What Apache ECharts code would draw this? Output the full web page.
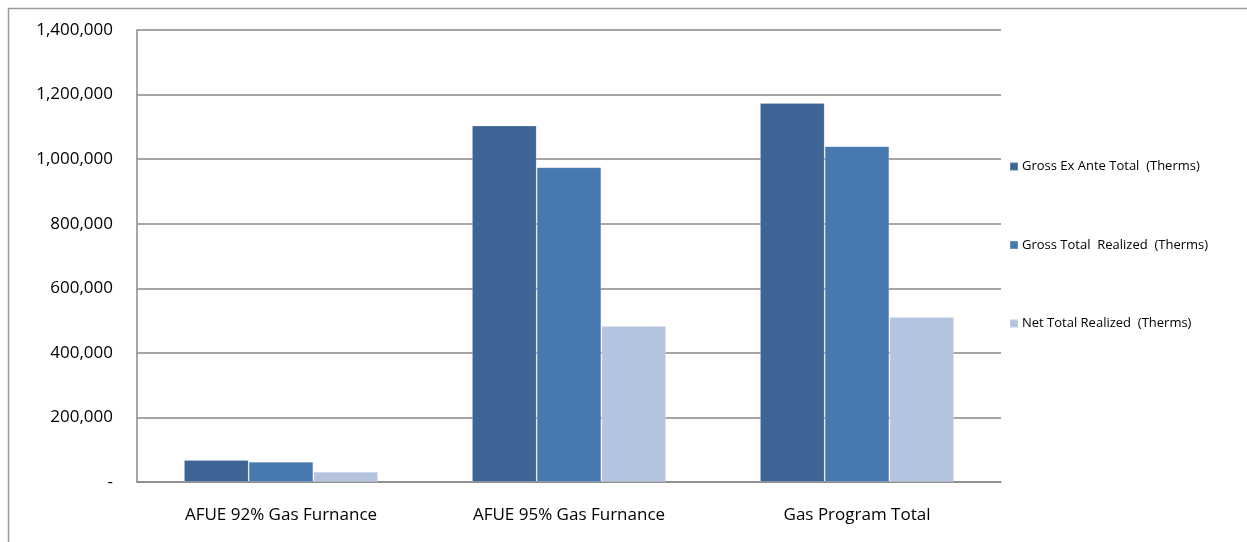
<!DOCTYPE html>
<html>
<head>
<meta charset="utf-8">
<script src="https://cdn.jsdelivr.net/npm/echarts@6/dist/echarts.min.js"></script>
<style>
  html, body { margin: 0; padding: 0; background: #fff; }
  #chart { width: 1247px; height: 542px; }
</style>
</head>
<body>
<div id="chart"></div>
<script>
// Furnace measures and program total
const categories = ['AFUE 92% Gas Furnance', 'AFUE 95% Gas Furnance', 'Gas Program Total'];
const seriesNames = ['Gross Ex Ante Total  (Therms)', 'Gross Total  Realized  (Therms)', 'Net Total Realized  (Therms)'];
const grossExAnte = [68000, 1104000, 1174000];
const grossRealized = [63000, 975000, 1040000];
const netRealized = [32000, 483000, 511000];
const seriesColors = ['#3D6494', '#4878B0', '#B4C4DE'];

const FONT = '"Open Sans", "Liberation Sans", sans-serif';

const fmt = v => v === 0 ? '-' : v.toLocaleString('en-US');

const chart = echarts.init(document.getElementById('chart'), null, { renderer: 'canvas' });

const values = [grossExAnte, grossRealized, netRealized];

chart.setOption({
  animation: false,
  backgroundColor: '#fff',
  textStyle: { fontFamily: FONT },
  graphic: [
    { type: 'line', shape: { x1: 8, y1: 8.5, x2: 1247, y2: 8.5 }, style: { stroke: '#9a9a9a', lineWidth: 1.5 } },
    { type: 'line', shape: { x1: 8.5, y1: 8, x2: 8.5, y2: 542 }, style: { stroke: '#9a9a9a', lineWidth: 1.5 } }
  ],
  grid: { left: 137, top: 30, right: 246, bottom: 60, containLabel: false },
  legend: {
    orient: 'vertical',
    left: 1004,
    top: 155,
    itemWidth: 8,
    itemHeight: 8,
    itemGap: 65.5,
    icon: 'rect',
    textStyle: { fontFamily: FONT, fontSize: 13, color: '#000', padding: [0, 0, 0, -1] },
    data: seriesNames
  },
  xAxis: {
    type: 'category',
    data: categories,
    axisLine: { lineStyle: { color: '#888', width: 1.5 } },
    axisTick: { show: false },
    axisLabel: { color: '#000', fontSize: 17, fontFamily: FONT, margin: 25 }
  },
  yAxis: {
    type: 'value',
    min: 0,
    max: 1400000,
    interval: 200000,
    axisLine: { show: true, lineStyle: { color: '#888', width: 1.5 } },
    axisTick: { show: false },
    splitLine: { lineStyle: { color: '#888', width: 1.5 } },
    axisLabel: { color: '#000', fontSize: 17, fontFamily: FONT, margin: 24, formatter: fmt }
  },
  series: seriesNames.map((name, i) => ({
    name,
    type: 'bar',
    data: values[i],
    barGap: '0%',
    barCategoryGap: '32.6%',
    itemStyle: { color: seriesColors[i], borderColor: 'rgba(255,255,255,0.2)', borderWidth: 1 }
  }))
});
</script>
</body>
</html>
